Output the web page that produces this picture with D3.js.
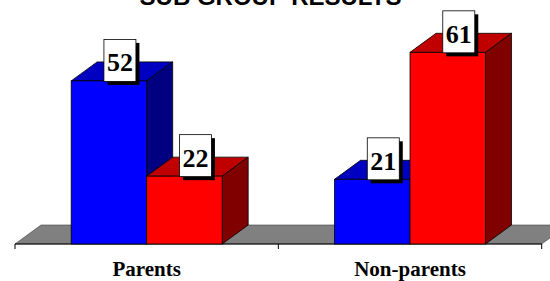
<!DOCTYPE html>
<html>
<head>
<meta charset="utf-8">
<script src="https://cdn.jsdelivr.net/npm/d3@7"></script>
<style>
  body { margin: 0; background: #fff; }
  svg { display: block; }
</style>
</head>
<body>
<div class="chart"></div>
<script>
// chart values
const categories = ["Parents", "Non-parents"]
const seriesNames = ["Blue", "Red"]
const blueValues = [52, 21]
const redValues = [22, 61]
const titleText = "SUB GROUP RESULTS"

const width = 550, height = 281
const base = 244          // front edge of the floor
const depthX = 26, depthY = 19

const colors = {
  Blue: { front: "#0000ff", top: "#0000c0", side: "#000080" },
  Red:  { front: "#ff0000", top: "#c00000", side: "#800000" }
}

const svg = d3.select(".chart").append("svg")
  .attr("width", width)
  .attr("height", height)

// scales
const x = d3.scaleBand()
  .domain(categories)
  .range([15, 541.7])
  .padding(0)

const groupWidth = 151
const xs = d3.scaleBand()
  .domain(seriesNames)
  .range([0, groupWidth])

const y = d3.scaleLinear()
  .domain([0, 70])
  .range([246, 23.75])

// floor
const x0 = x.range()[0], x1 = x.range()[1]
svg.append("path")
  .attr("d", `M${x0},${base} L${x0 + depthX},${base - depthY} L${x1 + depthX},${base - depthY} L${x1},${base} Z`)
  .attr("fill", "#808080")
  .attr("stroke", "#404040")
  .attr("stroke-width", 0.6)

// axis line + ticks
svg.append("line")
  .attr("x1", x0).attr("x2", x1)
  .attr("y1", base).attr("y2", base)
  .attr("stroke", "black")
  .attr("stroke-width", 1.2)

const tickPos = categories.map(c => x(c)).concat([x1])
svg.selectAll(".tick")
  .data(tickPos)
  .enter()
  .append("line")
    .attr("x1", d => d).attr("x2", d => d)
    .attr("y1", base).attr("y2", base + 5)
    .attr("stroke", "black")

// build bar data
const bars = []
categories.forEach(function(c, i) {
  bars.push({ cat: c, series: "Blue", value: blueValues[i] })
  bars.push({ cat: c, series: "Red", value: redValues[i] })
})

function barX(d) {
  return x(d.cat) + (x.bandwidth() - groupWidth) / 2 + xs(d.series)
}

const g = svg.selectAll(".bar")
  .data(bars)
  .enter()
  .append("g")

// top face
g.append("path")
  .attr("d", function(d) {
    const l = barX(d), r = l + xs.bandwidth(), t = y(d.value)
    return `M${l},${t} L${l + depthX},${t - depthY} L${r + depthX},${t - depthY} L${r},${t} Z`
  })
  .attr("fill", d => colors[d.series].top)
  .attr("stroke", "black")
  .attr("stroke-width", 0.8)

// side face
g.append("path")
  .attr("d", function(d) {
    const r = barX(d) + xs.bandwidth(), t = y(d.value)
    return `M${r},${t} L${r + depthX},${t - depthY} L${r + depthX},${base - depthY} L${r},${base} Z`
  })
  .attr("fill", d => colors[d.series].side)
  .attr("stroke", "black")
  .attr("stroke-width", 0.8)

// front face
g.append("rect")
  .attr("x", d => barX(d))
  .attr("y", d => y(d.value))
  .attr("width", xs.bandwidth())
  .attr("height", d => base - y(d.value))
  .attr("fill", d => colors[d.series].front)
  .attr("stroke", "black")
  .attr("stroke-width", 0.8)

// data labels
const boxW = 32, boxH = 42
const labels = svg.selectAll(".lbl")
  .data(bars)
  .enter()
  .append("g")
  .attr("transform", d => `translate(${barX(d) + xs.bandwidth() / 2 + 11},${y(d.value) + 0.5})`)

labels.append("rect")
  .attr("x", -boxW / 2 + 3.5)
  .attr("y", -boxH + 3.5)
  .attr("width", boxW)
  .attr("height", boxH)
  .attr("fill", "black")

labels.append("rect")
  .attr("x", -boxW / 2)
  .attr("y", -boxH)
  .attr("width", boxW)
  .attr("height", boxH)
  .attr("fill", "white")
  .attr("stroke", "black")
  .attr("stroke-width", 0.8)

labels.append("text")
  .attr("x", 0)
  .attr("y", -10)
  .attr("text-anchor", "middle")
  .style("font-family", "'Liberation Serif', 'Times New Roman', serif")
  .style("font-weight", "bold")
  .style("font-size", "26px")
  .text(d => d.value)

// category labels
svg.selectAll(".cat")
  .data(categories)
  .enter()
  .append("text")
    .attr("x", d => x(d) + x.bandwidth() / 2)
    .attr("y", 276)
    .attr("text-anchor", "middle")
    .style("font-family", "'Liberation Serif', 'Times New Roman', serif")
    .style("font-weight", "bold")
    .style("font-size", "21px")
    .text(d => d)

// title (cut off at the top, as in the original)
svg.append("text")
  .attr("x", 270.5)
  .attr("y", 5)
  .attr("text-anchor", "middle")
  .style("font-family", "'Liberation Sans', Arial, sans-serif")
  .style("font-weight", "bold")
  .style("font-size", "24px")
  .text(titleText)
</script>
</body>
</html>
